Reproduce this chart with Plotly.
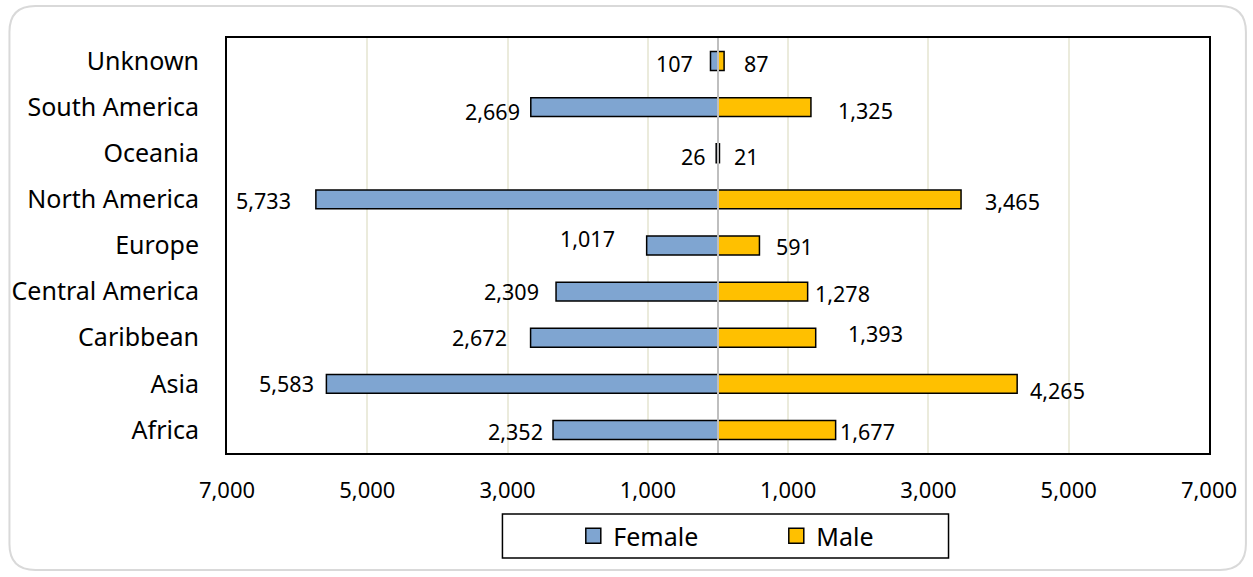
import plotly.graph_objects as go

categories = ["Africa", "Asia", "Caribbean", "Central America", "Europe",
              "North America", "Oceania", "South America", "Unknown"]
female = [2352, 5583, 2672, 2309, 1017, 5733, 26, 2669, 107]
male = [1677, 4265, 1393, 1278, 591, 3465, 21, 1325, 87]
tick_values = [-7000, -5000, -3000, -1000, 1000, 3000, 5000, 7000]
tick_labels = ["7,000", "5,000", "3,000", "1,000", "1,000", "3,000", "5,000", "7,000"]

# label placement offsets (px) mimicking the manually placed labels of the original
female_shift = [(-38, -2), (-40, 0), (-51, 0), (-45, 0), (-59, 7),
                (-52, -1), (-23, -3), (-38, -4), (-36, -2)]
male_shift = [(32, -2), (40, -7), (60, 4), (35, -2), (35, -1),
              (51, -2), (27, -3), (55, -3), (32, -2)]

FONT = "Noto Sans"
W, H = 1253, 577
ML, MR, MT, MB = 225, 44, 38, 124
PW, PH = W - ML - MR, H - MT - MB
FEMALE_C, MALE_C = "#7FA5D1", "#FFC000"

fig = go.Figure()
fig.add_trace(go.Bar(
    y=categories, x=[-v for v in female], orientation="h", name="Female",
    marker=dict(color=FEMALE_C, line=dict(color="black", width=1.5)),
    width=0.41, hoverinfo="skip", showlegend=False))
fig.add_trace(go.Bar(
    y=categories, x=male, orientation="h", name="Male",
    marker=dict(color=MALE_C, line=dict(color="black", width=1.5)),
    width=0.41, hoverinfo="skip", showlegend=False))
# legend entries with square symbols
for name, col in (("Female", FEMALE_C), ("Male", MALE_C)):
    fig.add_trace(go.Scatter(
        x=[None], y=[None], mode="markers", name=name,
        marker=dict(symbol="square", size=15, color=col,
                    line=dict(color="black", width=1.5))))

for cat, v, (dx, dy) in zip(categories, female, female_shift):
    fig.add_annotation(x=-v, y=cat, text=f"{v:,}", showarrow=False,
                       xanchor="center", yanchor="middle", xshift=dx, yshift=dy,
                       font=dict(family=FONT, size=21.5, color="black"))
for cat, v, (dx, dy) in zip(categories, male, male_shift):
    fig.add_annotation(x=v, y=cat, text=f"{v:,}", showarrow=False,
                       xanchor="center", yanchor="middle", xshift=dx, yshift=dy,
                       font=dict(family=FONT, size=21.5, color="black"))

# center line
fig.add_shape(type="line", xref="x", yref="paper", x0=0, x1=0, y0=0, y1=1,
              line=dict(color="#BFBFBF", width=2), layer="above")

# outer rounded border (pixel -> paper coords)
def px(x):
    return (x - ML) / PW
def py(y):
    return 1 - (y - MT) / PH

x0, x1, y0, y1, r = 7, 1246, 6, 570, 26
path = (f"M {px(x0 + r)} {py(y0)} L {px(x1 - r)} {py(y0)} "
        f"Q {px(x1)} {py(y0)} {px(x1)} {py(y0 + r)} "
        f"L {px(x1)} {py(y1 - r)} Q {px(x1)} {py(y1)} {px(x1 - r)} {py(y1)} "
        f"L {px(x0 + r)} {py(y1)} Q {px(x0)} {py(y1)} {px(x0)} {py(y1 - r)} "
        f"L {px(x0)} {py(y0 + r)} Q {px(x0)} {py(y0)} {px(x0 + r)} {py(y0)} Z")
fig.add_shape(type="path", xref="paper", yref="paper", path=path,
              line=dict(color="#D9D9D9", width=2), layer="below")

# legend box
fig.add_shape(type="rect", xref="paper", yref="paper",
              x0=px(501), x1=px(948), y0=py(514), y1=py(558),
              line=dict(color="black", width=1.5))

fig.update_layout(
    width=W, height=H,
    margin=dict(l=ML, r=MR, t=MT, b=MB),
    paper_bgcolor="white", plot_bgcolor="white",
    barmode="overlay",
    font=dict(family=FONT, size=22, color="black"),
    showlegend=True,
    legend=dict(orientation="h", x=px(572), y=py(536), xanchor="left",
                yanchor="middle", bgcolor="rgba(0,0,0,0)", borderwidth=0,
                font=dict(family=FONT, size=25), entrywidth=158,
                traceorder="normal", itemsizing="trace"),
    xaxis=dict(range=[-7000, 7000], tickvals=tick_values, ticktext=tick_labels,
               showgrid=True, gridcolor="#EBEBDC", gridwidth=1.5, zeroline=False,
               showline=True, linecolor="black", linewidth=2, mirror=True,
               ticks="", ticklabelstandoff=17,
               tickfont=dict(family=FONT, size=22)),
    yaxis=dict(categoryorder="array", categoryarray=categories,
               range=[-0.5, 8.5], showgrid=False, zeroline=False,
               showline=True, linecolor="black", linewidth=2, mirror=True,
               ticks="", ticklabelstandoff=21,
               tickfont=dict(family=FONT, size=25)),
)

fig.write_html("out.html", config={"displayModeBar": False},
               post_script="document.body.style.margin='0';")
